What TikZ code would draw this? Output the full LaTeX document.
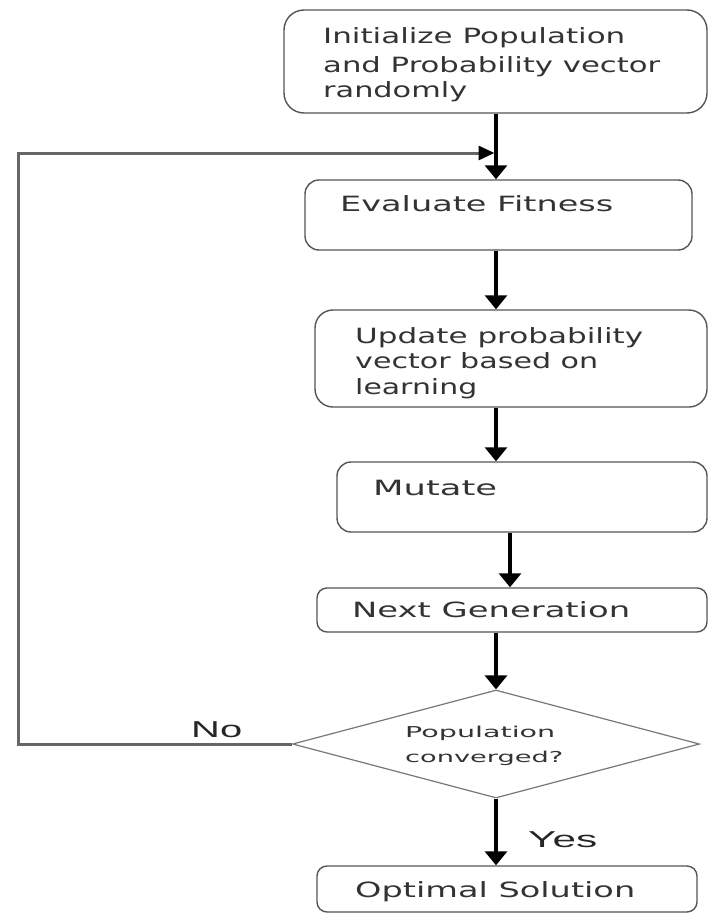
\documentclass[tikz,border=0pt]{standalone}
\usepackage{fontspec}
\usepackage{graphicx}
\usetikzlibrary{shapes.geometric,arrows.meta}
\newfontfamily\boxfont{DejaVu Sans}
\newfontfamily\labfont{Liberation Sans}
\newcommand\fitw[2]{\resizebox{#1}{\height}{#2}}
\definecolor{txt}{HTML}{333333}
\definecolor{edge}{HTML}{555555}
\definecolor{fb}{HTML}{666666}
\tikzset{
 box/.style={draw=edge, line width=1.4pt, rounded corners=14pt, inner sep=0pt},
 dec/.style={draw=edge!80, line width=1.2pt, diamond, inner sep=0pt},
 tl/.style={anchor=base west, inner sep=0pt, text=txt, font=\boxfont\fontsize{21}{25}\selectfont},
 tsm/.style={anchor=base west, inner sep=0pt, text=txt, font=\boxfont\fontsize{15}{18}\selectfont},
 lab/.style={anchor=base west, inner sep=0pt, text=black!85, font=\labfont\fontsize{23}{27}\selectfont},
 arr/.style={line width=3.2pt, -{Triangle[width=22pt,length=14pt]}},
 fbline/.style={draw=fb, line width=3pt, line join=miter, -{Triangle[width=14pt,length=16pt,color=black]}}
}
\begin{document}
\begin{tikzpicture}[x=1pt,y=-1pt]
\useasboundingbox (0,0) rectangle (709,918);
% boxes
\node[box, rounded corners=20pt, minimum width=423pt, minimum height=103pt] (b1) at (495.5,61.5) {};
\node[box, minimum width=387pt, minimum height=70pt] (b2) at (498.5,215) {};
\node[box, rounded corners=18pt, minimum width=392pt, minimum height=97pt] (b3) at (511,358.5) {};
\node[box, minimum width=370pt, minimum height=70pt] (b4) at (522,497) {};
\node[box, rounded corners=10pt, minimum width=390pt, minimum height=44pt] (b5) at (512,610) {};
\node[dec, minimum width=407pt, minimum height=108pt] (d) at (496,744) {};
\node[box, rounded corners=10pt, minimum width=380pt, minimum height=46pt] (b6) at (507,889) {};
% texts
\node[tl] (t1a) at (323,43) {\fitw{302pt}{Initialize Population}};
\node[tl] (t1b) at (323,72) {\fitw{337pt}{and Probability vector}};
\node[tl] (t1c) at (323,97) {\fitw{144pt}{randomly}};
\node[tl] (t2) at (340,211) {\fitw{273pt}{Evaluate Fitness}};
\node[tl] (t3a) at (355,343) {\fitw{288pt}{Update probability}};
\node[tl] (t3b) at (355,368) {\fitw{243pt}{vector based on}};
\node[tl] (t3c) at (355,394) {\fitw{122pt}{learning}};
\node[tl] (t4) at (373,495) {\fitw{124pt}{Mutate}};
\node[tl] (t5) at (352,617) {\fitw{278pt}{Next Generation}};
\node[tsm] (tda) at (405,737) {\fitw{150pt}{Population}};
\node[tsm] (tdb) at (405,762) {\fitw{158pt}{converged?}};
\node[tl] (t6) at (355,897) {\fitw{280pt}{Optimal Solution}};
\node[lab] (no) at (191,737) {\fitw{51pt}{No}};
\node[lab] (yes) at (528,847) {\fitw{69pt}{Yes}};
% column coordinates
\coordinate (cx) at (496,0);
\coordinate (cx2) at (510,0);
\coordinate (fbl) at (18,744);
\coordinate (fbt) at (18,153);
\coordinate (fbe) at (494.5,153);
% arrows
\draw[arr] (b1.south -| cx) -- (b2.north -| cx);
\draw[arr] (b2.south -| cx) -- (b3.north -| cx);
\draw[arr] (b3.south -| cx) -- (b4.north -| cx);
\draw[arr] (b4.south -| cx2) -- (b5.north -| cx2);
\draw[arr] (b5.south -| cx) -- (d.north);
\draw[arr] (d.south) -- (b6.north -| d.south);
\draw[fbline] (d.west) -- (fbl) -- (fbt) -- (fbe);
\end{tikzpicture}
\end{document}
